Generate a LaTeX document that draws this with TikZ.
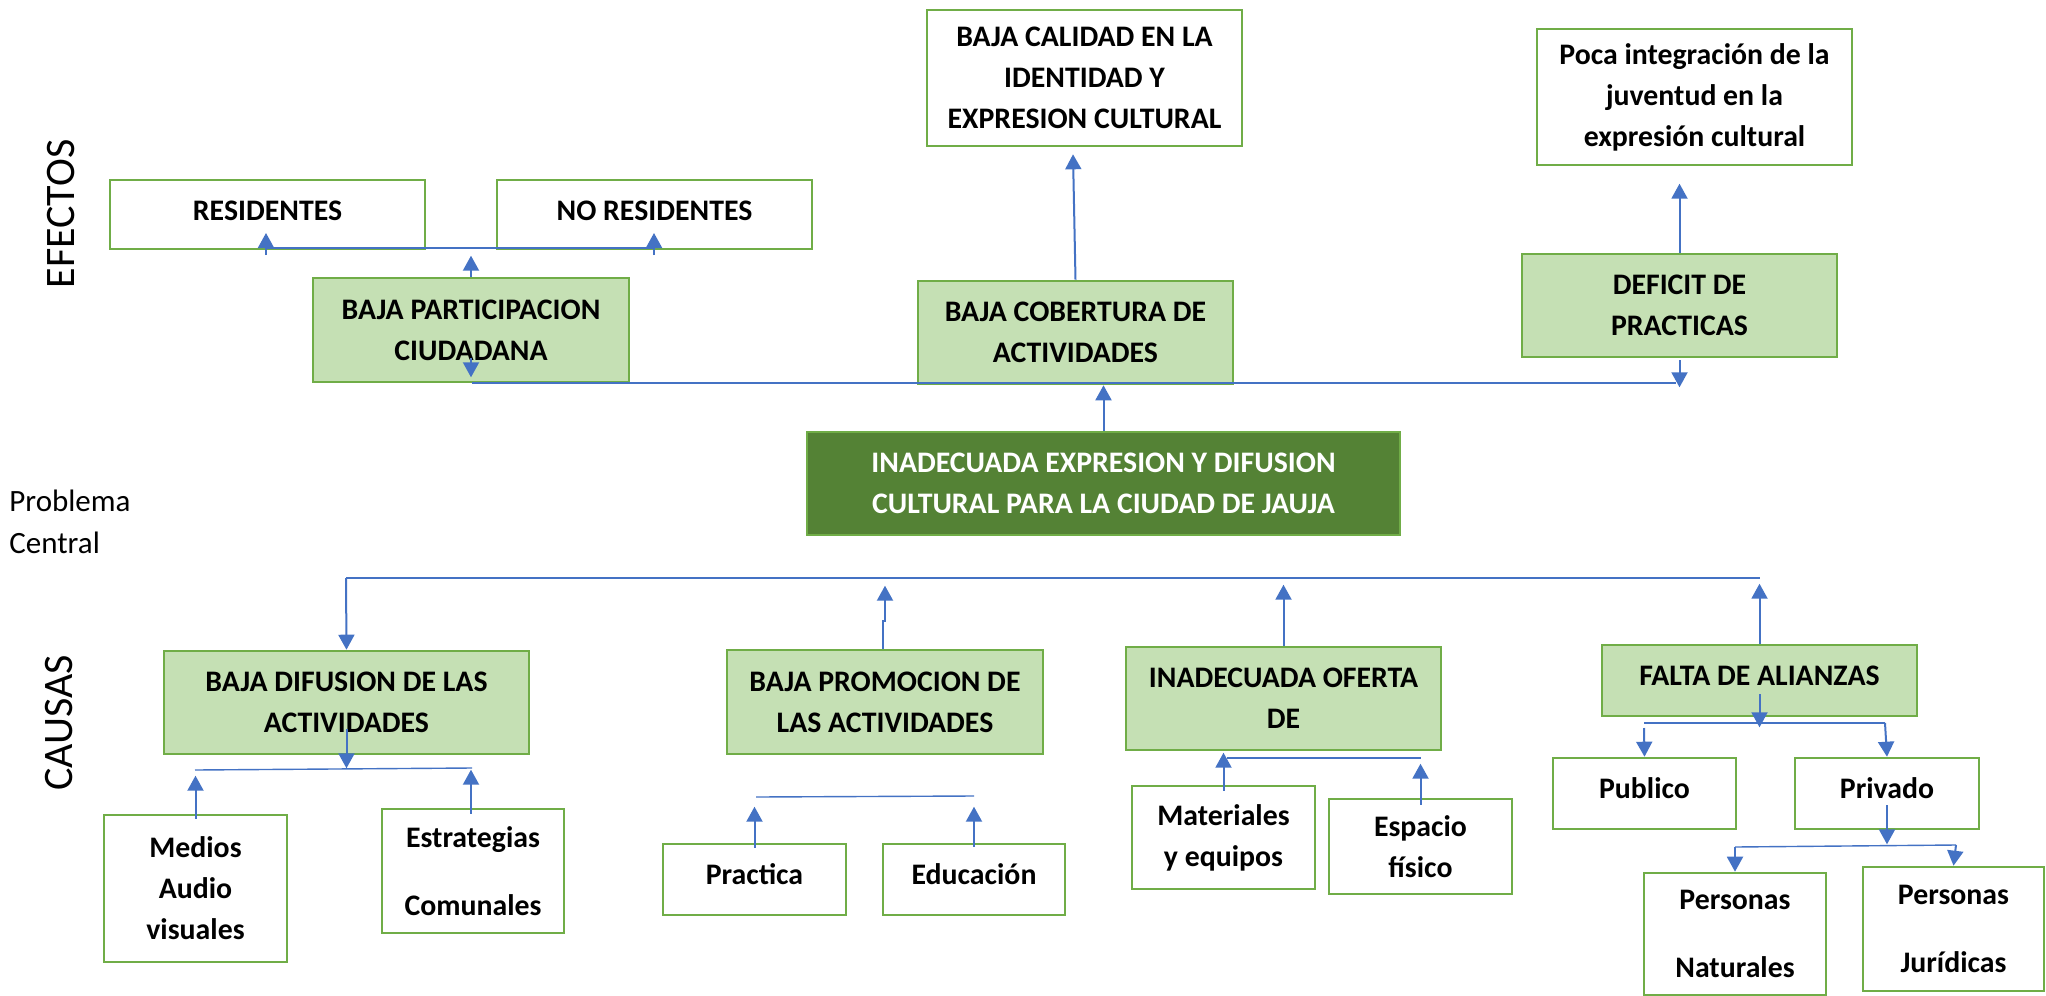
\documentclass[tikz,border=0pt]{standalone}
\usepackage{fontspec}
\setmainfont{Carlito}
\usetikzlibrary{arrows.meta,calc}
\definecolor{gborder}{HTML}{70AD47}
\definecolor{gfill}{HTML}{C5E0B4}
\definecolor{gdark}{HTML}{548235}
\definecolor{ablue}{HTML}{4472C4}
\begin{document}
\begin{tikzpicture}[x=0.5pt,y=-0.5pt,
  box/.style={draw=gborder, line width=1.3pt, fill=white, inner sep=0pt, align=center,
    font=\bfseries\fontsize{14.9}{20.5}\selectfont},
  lbox/.style={box, fill=gfill},
  dbox/.style={box, fill=gdark, text=white},
  wide/.style={font=\bfseries\fontsize{14.9}{34}\selectfont},
  arr/.style={draw=ablue, line width=1pt, -{Triangle[width=8pt,length=7.5pt]}},
  hl/.style={draw=ablue, line width=0.7pt},
  side/.style={font=\fontsize{21}{25}\selectfont, rotate=90, inner sep=0pt}
]
\useasboundingbox (0,0) rectangle (2046,996);
\fill[white] (0,0) rectangle (2046,996);

% side labels
\node[side] (efectos) at (61,214) {EFECTOS};
\node[side] (causas) at (59,723) {CAUSAS};
\node[anchor=west, align=left, inner sep=0pt, font=\fontsize{15.5}{21}\selectfont] (prob) at (9,522) {Problema\\Central};

% effects
\node[box, minimum width=157.5pt, minimum height=34.5pt, text depth=3.5pt] (res) at (267.5,214.5) {RESIDENTES};
\node[box, minimum width=157.5pt, minimum height=34.5pt, text depth=3.5pt] (nores) at (654.5,214.5) {NO RESIDENTES};
\node[lbox, minimum width=158pt, minimum height=52pt] (bpart) at (471,330) {BAJA PARTICIPACION\\CIUDADANA};
\node[box, minimum width=157.5pt, minimum height=68pt] (bcal) at (1084.5,78) {BAJA CALIDAD EN LA\\IDENTIDAD Y\\EXPRESION CULTURAL};
\node[lbox, minimum width=157.5pt, minimum height=51.5pt] (bcob) at (1075.5,332.5) {BAJA COBERTURA DE\\ACTIVIDADES};
\node[box, minimum width=157.5pt, minimum height=68pt] (poca) at (1694.5,97) {Poca integración de la\\juventud en la\\expresión cultural};
\node[lbox, minimum width=157.5pt, minimum height=51.5pt] (def) at (1679.5,305.5) {DEFICIT DE\\PRACTICAS};

% central problem
\node[dbox, minimum width=296.5pt, minimum height=51.5pt] (central) at (1103.5,483.5) {INADECUADA EXPRESION Y DIFUSION\\CULTURAL PARA LA CIUDAD DE JAUJA};

% causes
\node[lbox, minimum width=182.5pt, minimum height=51.5pt] (bdif) at (346.5,702.5) {BAJA DIFUSION DE LAS\\ACTIVIDADES};
\node[lbox, minimum width=158pt, minimum height=52pt] (bprom) at (885,702) {BAJA PROMOCION DE\\LAS ACTIVIDADES};
\node[lbox, minimum width=157.5pt, minimum height=51.5pt] (inof) at (1283.5,698.5) {INADECUADA OFERTA\\DE};
\node[lbox, minimum width=157.5pt, minimum height=35.5pt, text depth=5pt] (falta) at (1759.5,680.5) {FALTA DE ALIANZAS};

\node[box, minimum width=91.5pt, minimum height=73.5pt] (medios) at (195.5,888.5) {Medios\\Audio\\visuales};
\node[box, wide, minimum width=91pt, minimum height=62pt] (estr) at (473,871) {Estrategias\\Comunales};
\node[box, minimum width=91.5pt, minimum height=35.5pt, text depth=5pt] (prac) at (754.5,879.5) {Practica};
\node[box, minimum width=91pt, minimum height=35.5pt, text depth=5pt] (educ) at (974,879.5) {Educación};
\node[box, minimum width=91.5pt, minimum height=51.5pt] (mat) at (1223.5,837.5) {Materiales\\y equipos};
\node[box, minimum width=91.5pt, minimum height=47.5pt] (esp) at (1420.5,846.5) {Espacio\\físico};
\node[box, minimum width=91.5pt, minimum height=35.5pt, text depth=5pt] (pub) at (1644.5,793.5) {Publico};
\node[box, minimum width=92pt, minimum height=35.5pt, text depth=5pt] (priv) at (1887,793.5) {Privado};
\node[box, wide, minimum width=91pt, minimum height=61pt] (pnat) at (1735,934) {Personas\\Naturales};
\node[box, wide, minimum width=90.5pt, minimum height=62pt] (pjur) at (1953.5,929) {Personas\\Jurídicas};

% ---- effect connectors
\coordinate (eL) at (266,248);
\coordinate (eR) at (654,248);
\draw[hl] (eL) -- (eR);
\draw[arr] (eL) ++(0,7) -- ++(0,-22);
\draw[arr] (eR) ++(0,7) -- ++(0,-22);
\draw[arr] (bpart.north) -- ++(0,-21);
\draw[arr] (bpart.south) ++(0,-25) -- ++(0,19);
\coordinate (mL) at (472,383);
\coordinate (mR) at (1676,383);
\draw[hl] (mL) -- (mR);
\draw[arr] (bcob.north) -- ([xshift=-5.75pt,yshift=-3.5pt]bcal.south);
\draw[arr] (def.north) -- ++(0,-69);
\draw[arr] (def.south) ++(0,2) -- ++(0,27);
\draw[arr] (central.north) -- (central.north |- bcob.south);

% ---- cause connectors
\coordinate (cL) at (346,578);
\coordinate (cR) at (1760,578);
\draw[hl] (cL) -- (cR);
\draw[arr] (cL) -- (bdif.north);
\draw[arr] ([xshift=-1pt]bprom.north) -- ++(0,-28) -- ++(2,0) -- ++(0,-35);
\draw[arr] (inof.north) -- ++(0,-61);
\draw[arr] (falta.north) -- ++(0,-60);

% bdif subtree
\draw[arr] (bdif.south) ++(0,-26) -- ++(0,39);
\coordinate (dL) at (195,770);
\coordinate (dR) at (472,768);
\draw[hl] (dL) -- (dR);
\draw[arr] ([yshift=-2.5pt]medios.north) -- ++(0,-43);
\draw[arr] ([xshift=-1pt,yshift=-3pt]estr.north) -- ++(0,-44);

% bprom subtree
\coordinate (pmL) at (756,797);
\coordinate (pmR) at (974,796);
\draw[hl] (pmL) -- (pmR);
\draw[arr] ([yshift=-2.5pt]prac.north) -- ++(0,-41);
\draw[arr] ([yshift=-2pt]educ.north) -- ++(0,-40);

% inof subtree
\coordinate (oL) at (1227,758);
\coordinate (oR) at (1421,758);
\draw[hl] (oL) -- (oR);
\draw[arr] ([yshift=-3pt]mat.north) -- ++(0,-38);
\draw[arr] ([yshift=-3.5pt]esp.north) -- ++(0,-41);

% falta subtree
\draw[arr] (falta.south) ++(0,-23) -- ++(0,33);
\coordinate (fL) at (1644,723);
\coordinate (fR) at (1885,723);
\draw[hl] (fL) -- (fR);
\draw[arr] (fL) ++(0,5) -- (pub.north);
\draw[arr] (fR) -- (priv.north);
\draw[arr] (priv.south) ++(0,-25) -- ++(0,39);
\coordinate (pL) at (1735,847);
\coordinate (pR) at (1956,845);
\draw[hl] (pL) -- (pR);
\draw[arr] (pL) -- (pnat.north);
\draw[arr] (pR) -- (pjur.north);
\end{tikzpicture}
\end{document}
